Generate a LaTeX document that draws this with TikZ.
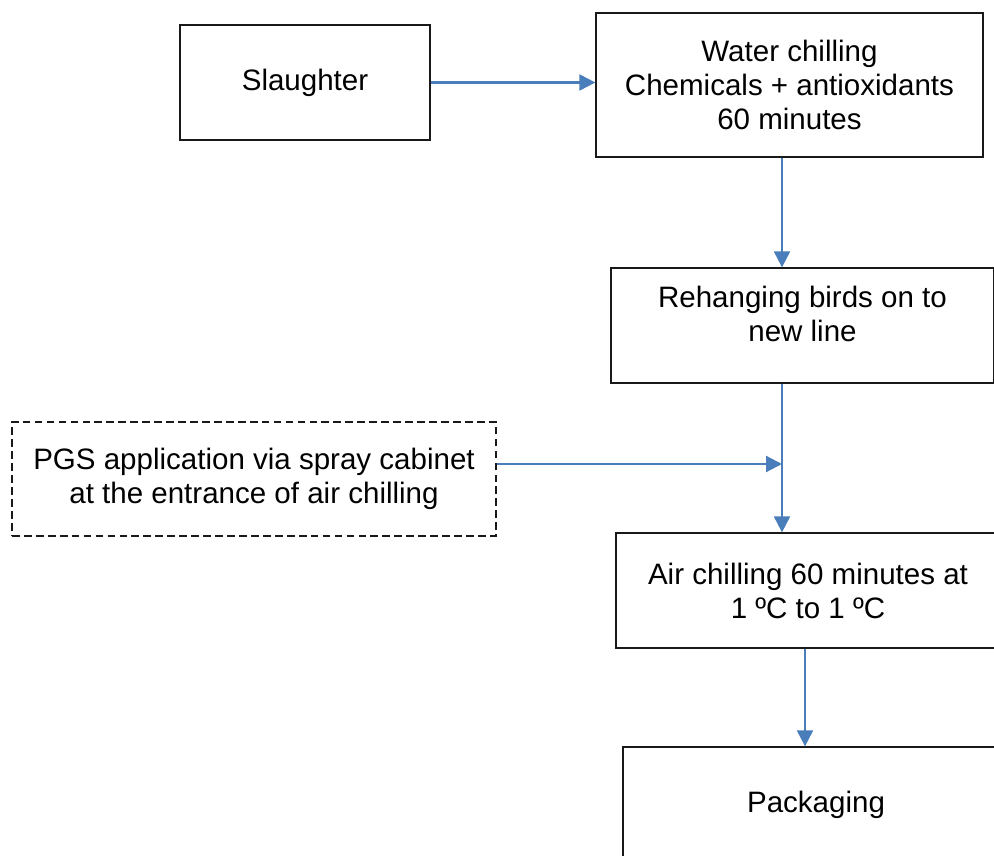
\documentclass[tikz,border=0pt]{standalone}
\usepackage{fontspec}
\setmainfont{Liberation Sans}
\usepackage{xcolor}
\usetikzlibrary{arrows.meta}
\definecolor{flowblue}{HTML}{4A7EBB}

\begin{document}
\begin{tikzpicture}[box/.style={draw=black!90,line width=0.9pt,minimum width=#1,minimum height=2.875cm,align=center,
                                font=\fontsize{21}{24.2}\selectfont,inner sep=0pt},
                    flow/.style={draw=flowblue,line width=1.5pt,-{Triangle[length=4mm,width=4mm]}},
                    >=stealth]
\clip (0,0) rectangle (24.85,-21.4);
\node[box=6.25cm] (slaughter) at (7.625,-2.0625) {Slaughter};
\node[box=9.675cm,minimum height=3.6cm] (water) at (19.7375,-2.125) {Water chilling\\Chemicals + antioxidants\\60 minutes};
\node[box=9.575cm] (rehang) at (20.0625,-8.1375) {Rehanging birds on to\\new line\\[-8pt]\mbox{}};
\node[box=12.1cm,minimum height=2.85cm,dash pattern=on 5.5pt off 3pt] (pgs) at (6.35,-11.975) {PGS application via spray cabinet\\at the entrance of air chilling};
\node[box=9.6cm] (air) at (20.2,-14.7625) {Air chilling 60 minutes at\\1 ºC to 1 ºC};
\node[box=9.65cm] (pack) at (20.4,-20.1125) {Packaging};
\coordinate (trunk) at (19.55,0);
\coordinate (join) at (19.55,-11.6);
\coordinate (trunkb) at (20.125,0);
\draw[flow] (slaughter.east) -- (slaughter.east -| water.west);
\draw[flow] (water.south -| trunk) -- (rehang.north -| trunk);
\draw[flow] (rehang.south -| trunk) -- (air.north -| trunk);
\draw[flow] (pgs.east |- join) -- (join);
\draw[flow] (air.south -| trunkb) -- (pack.north -| trunkb);
\end{tikzpicture}
\end{document}
